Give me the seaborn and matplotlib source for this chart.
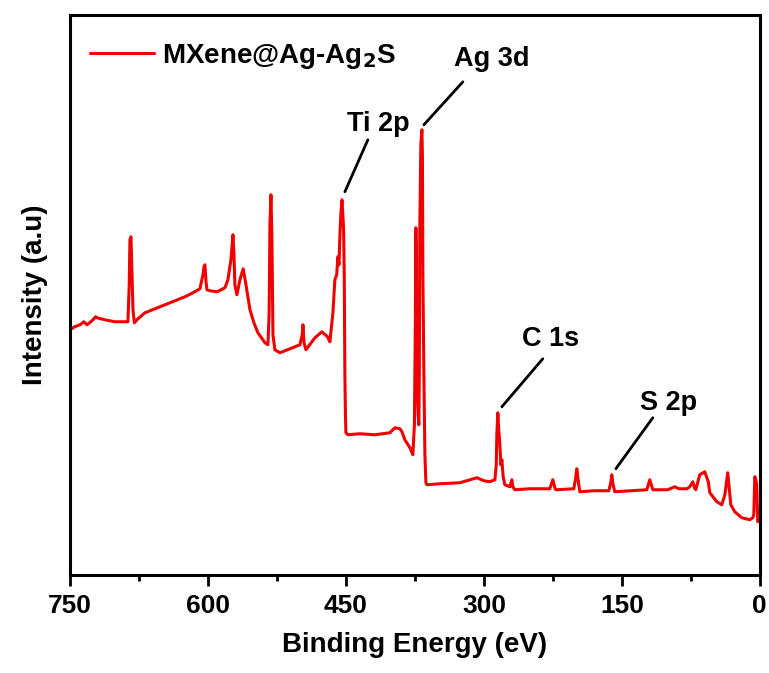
import numpy as np
import pandas as pd
import matplotlib
matplotlib.use("Agg")
import matplotlib.pyplot as plt
import seaborn as sns

# XPS survey spectrum (arbitrary units)
binding_energy = [
    750.0, 745.0, 739.1, 735.0, 731.5, 726.1, 722.0, 720.7, 712.0, 701.1,
    687.0, 685.6, 684.8, 683.7, 682.6, 681.5, 680.0, 677.2, 668.5, 652.2,
    635.9, 625.0, 616.3, 608.7, 605.4, 604.3, 603.3, 602.0, 601.1, 597.8,
    590.0, 581.5, 578.3, 575.0, 572.8, 571.7, 570.7, 568.5, 565.2, 561.7,
    559.0, 554.3, 550.0, 545.7, 538.0, 534.8, 533.5, 532.6, 531.5, 530.5,
    529.3, 527.2, 521.7, 510.9, 500.0, 497.5, 496.7, 495.5, 493.5, 483.7,
    476.1, 470.0, 467.4, 464.1, 462.0, 460.0, 458.7, 457.5, 456.5, 455.5,
    454.3, 453.3, 452.5, 451.8, 451.1, 450.5, 450.0, 447.8, 434.8, 418.5,
    402.2, 396.7, 391.3, 389.1, 385.9, 380.4, 377.2, 375.5, 374.5, 373.9,
    373.3, 372.8, 371.5, 370.7, 370.2, 369.6, 368.5, 367.4, 366.8, 366.3,
    365.2, 364.1, 363.0, 361.9, 347.8, 326.1, 315.0, 307.6, 300.0, 293.5,
    288.0, 286.5, 285.9, 284.8, 283.8, 282.6, 281.5, 280.4, 279.0, 277.2,
    271.7, 269.6, 268.5, 266.3, 250.0, 228.3, 225.0, 222.5, 221.7, 202.2,
    200.5, 198.9, 197.5, 195.7, 180.0, 164.1, 162.0, 160.9, 159.5, 157.6,
    140.0, 122.8, 119.6, 116.3, 100.0, 92.4, 88.0, 79.3, 76.1, 72.8,
    71.0, 69.6, 65.2, 59.8, 56.0, 54.3, 46.7, 41.3, 38.0, 34.8,
    33.0, 31.5, 27.2, 19.6, 10.9, 7.6, 6.5, 5.4, 4.3, 3.3,
    2.5, 2.2,
]
intensity = [
    245, 248, 250, 253, 250, 254, 258, 257, 255, 253,
    253, 290, 335, 338, 300, 265, 252, 255, 262, 268,
    274, 278, 282, 286, 300, 308, 310, 292, 285, 284,
    283, 287, 295, 315, 340, 320, 290, 280, 295, 306,
    292, 265, 252, 242, 232, 230, 260, 350, 380, 340,
    240, 225, 222, 226, 230, 240, 250, 232, 225, 237,
    243, 238, 233, 262, 295, 300, 318, 310, 340, 360,
    375, 360, 345, 300, 200, 160, 142, 140, 141, 140,
    142, 147, 146, 143, 135, 127, 120, 150, 250, 347,
    300, 200, 160, 150, 200, 350, 430, 445, 420, 300,
    200, 120, 92, 90, 91, 92, 95, 97, 94, 93,
    95, 110, 140, 162, 145, 130, 110, 115, 98, 90,
    88, 95, 88, 85, 86, 86, 95, 86, 85, 86,
    95, 106, 95, 83, 84, 84, 92, 100, 90, 83,
    84, 85, 95, 85, 85, 88, 86, 86, 88, 93,
    87, 85, 100, 103, 93, 82, 73, 70, 80, 102,
    85, 70, 63, 57, 55, 57, 60, 98, 95, 90,
    60, 53,
]

# peak labels: text position and leader line (start at peak, end near text)
peak_names = ["Ag 3d", "Ti 2p", "C 1s", "S 2p"]
text_xy = [(291, 516), (415, 451), (228, 236), (99, 172)]
line_start = [(365.2, 450), (451.1, 383), (280.4, 168), (156.5, 106)]
line_end = [(322.8, 493), (426.1, 435), (235.9, 216), (116.3, 157)]

df = pd.DataFrame({"Binding Energy": binding_energy, "Intensity": intensity})

sns.set_style("ticks")
plt.rcParams["font.family"] = ["Liberation Sans", "DejaVu Sans"]
plt.rcParams["font.weight"] = "bold"
plt.rcParams["text.color"] = "black"
plt.rcParams["axes.labelcolor"] = "black"
plt.rcParams["xtick.color"] = "black"

fig = plt.figure(figsize=(7.69, 6.73), dpi=100)
ax = fig.add_axes([0.091, 0.146, 0.897, 0.832])

sns.lineplot(data=df, x="Binding Energy", y="Intensity", ax=ax,
             color="#f00000", lw=2.2, estimator=None, sort=False,
             label="MXene@Ag-Ag$_\\mathbf{2}$S")

for name, txy, p0, p1 in zip(peak_names, text_xy, line_start, line_end):
    ax.plot([p0[0], p1[0]], [p0[1], p1[1]], color="black", lw=2)
    ax.text(txy[0], txy[1], name, ha="center", va="center",
            fontsize=19.5, fontweight="bold")

ax.set_xlim(750, 0)
ax.set_ylim(0, 560)
ax.set_xticks([750, 600, 450, 300, 150, 0])
ax.set_xticks([675, 525, 375, 225, 75], minor=True)
ax.set_yticks([])
ax.tick_params(axis="x", which="major", direction="out", length=8, width=2,
               labelsize=19, pad=6)
ax.tick_params(axis="x", which="minor", direction="out", length=4, width=2)
for lab in ax.get_xticklabels():
    lab.set_fontweight("bold")
for sp in ax.spines.values():
    sp.set_visible(True)
    sp.set_linewidth(2.2)
    sp.set_color("black")

ax.set_xlabel("Binding Energy (eV)", fontsize=20, fontweight="bold", labelpad=10)
ax.set_ylabel("Intensity (a.u)", fontsize=20, fontweight="bold", labelpad=16)

ax.legend(loc="center left", bbox_to_anchor=(0.029, 0.926), frameon=False,
          borderpad=0, borderaxespad=0, handlelength=2.3, handletextpad=0.3,
          prop={"size": 20, "weight": "bold"})

fig.savefig("out.png", dpi=100)
